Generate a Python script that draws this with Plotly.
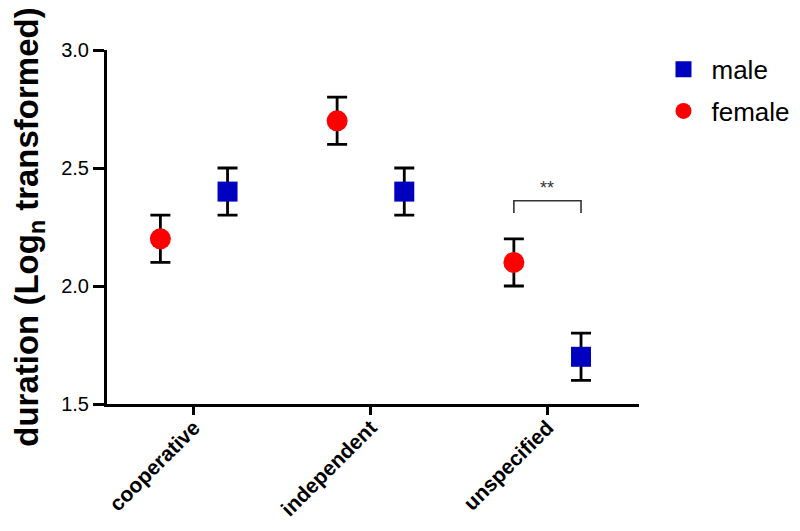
import plotly.graph_objects as go

categories = ["cooperative", "independent", "unspecified"]
female_mean = [2.2, 2.7, 2.1]
female_err = [0.1, 0.1, 0.1]
male_mean = [2.4, 2.4, 1.7]
male_err = [0.1, 0.1, 0.1]
y_ticks = [1.5, 2.0, 2.5, 3.0]
y_tick_labels = ["1.5", "2.0", "2.5", "3.0"]

offset = 0.19
cat_pos = list(range(len(categories)))
female_x = [p - offset for p in cat_pos]
male_x = [p + offset for p in cat_pos]

FONT = "Liberation Sans, Arial, sans-serif"

fig = go.Figure()
fig.add_trace(go.Scatter(
    x=male_x, y=male_mean, mode="markers", name="male",
    marker=dict(symbol="square", size=20, color="#0000C0"),
    error_y=dict(type="data", array=male_err, color="black", thickness=2.8, width=10),
    legendgroup="m",
))
fig.add_trace(go.Scatter(
    x=female_x, y=female_mean, mode="markers", name="female",
    marker=dict(symbol="circle", size=21, color="#FF0000"),
    error_y=dict(type="data", array=female_err, color="black", thickness=2.8, width=10),
    legendgroup="f",
))

# significance bracket between unspecified female and male
bx0, bx1 = female_x[2], male_x[2]
fig.add_shape(type="path",
              path=f"M {bx0},2.309 L {bx0},2.361 L {bx1},2.361 L {bx1},2.309",
              line=dict(color="#333333", width=1.6), xref="x", yref="y")
fig.add_annotation(x=(bx0 + bx1) / 2, y=2.415, text="**", showarrow=False,
                   yanchor="middle",
                   font=dict(family=FONT, size=18, color="#333333"))

fig.update_layout(
    width=792, height=523,
    margin=dict(l=99, r=161, t=42, b=127, autoexpand=False),
    plot_bgcolor="white", paper_bgcolor="white",
    font=dict(family=FONT, color="black"),
    showlegend=True,
    legend=dict(x=1.031, y=1.012, xanchor="left", yanchor="top",
                font=dict(family=FONT, size=26, color="black"),
                tracegroupgap=5, itemsizing="trace", itemwidth=46),
    xaxis=dict(
        range=[-0.492, 2.518], tickmode="array", tickvals=cat_pos, ticktext=categories,
        tickangle=-45, ticks="outside", ticklen=8, tickwidth=3, tickcolor="black",
        showline=True, linecolor="black", linewidth=3, showgrid=False, zeroline=False,
        automargin=False, ticklabelstandoff=-8,
        tickfont=dict(family=FONT, size=21, color="black", weight="bold"),
    ),
    yaxis=dict(
        range=[1.5, 3.0], tickmode="array", tickvals=y_ticks, ticktext=y_tick_labels,
        ticks="outside", ticklen=11, tickwidth=3, tickcolor="black",
        showline=True, linecolor="black", linewidth=3, showgrid=False, zeroline=False,
        automargin=True,
        tickfont=dict(family=FONT, size=20, color="black"),
        title=dict(text="<b>duration (Log<sub>n</sub> transformed)</b>",
                   font=dict(family=FONT, size=33, color="black"), standoff=35),
    ),
)

fig.write_html("out.html")
